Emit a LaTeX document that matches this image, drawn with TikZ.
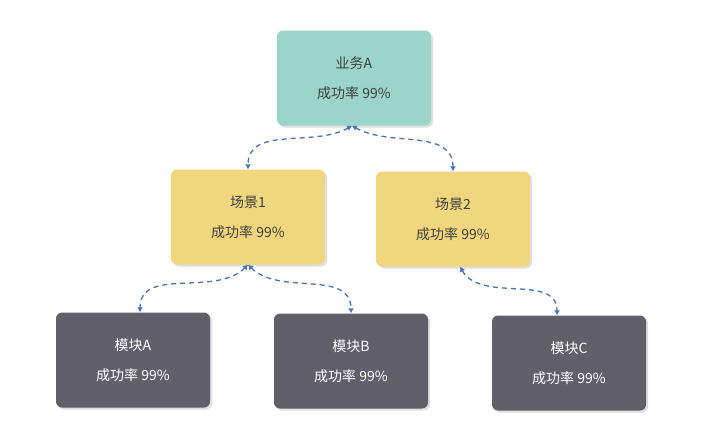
\documentclass[tikz,border=0pt]{standalone}
\usepackage{fontspec}
\setmainfont{Noto Sans CJK SC}
\usetikzlibrary{shadows,arrows.meta}
\definecolor{teal1}{HTML}{9AD4CB}
\definecolor{yel}{HTML}{F0D67C}
\definecolor{dk}{HTML}{615F69}
\definecolor{ab}{HTML}{4A72B8}
\begin{document}
\begin{tikzpicture}[x=1pt,y=-1pt,
 box/.style={rounded corners=6pt,minimum width=154pt,minimum height=95pt,align=center,font=\fontsize{14}{30}\selectfont,drop shadow={shadow xshift=2pt,shadow yshift=-2pt,opacity=0.25}},
 arr/.style={draw=ab,dashed,dash pattern=on 5pt off 4pt,line width=1.3pt,{Latex[length=5pt,width=6pt]}-{Latex[length=5pt,width=6pt]}}]
\useasboundingbox (0,0) rectangle (720,440);
\node[box,fill=teal1,text=black!75] (a) at (354,78) {业务A\\成功率 99\%};
\node[box,fill=yel,text=black!75] (s1) at (248,217) {场景1\\成功率 99\%};
\node[box,fill=yel,text=black!75] (s2) at (453,219) {场景2\\成功率 99\%};
\node[box,fill=dk,text=white] (m1) at (133,360) {模块A\\成功率 99\%};
\node[box,fill=dk,text=white] (m2) at (351,361) {模块B\\成功率 99\%};
\node[box,fill=dk,text=white] (m3) at (569,363) {模块C\\成功率 99\%};
\draw[arr] ([xshift=-2pt]a.south) to[out=-150,in=90] (s1.north);
\draw[arr] ([xshift=-2pt]a.south) to[out=-30,in=90] (s2.north);
\draw[arr] (s1.south) to[out=-135,in=90] ([xshift=7pt]m1.north);
\draw[arr] (s1.south) to[out=-45,in=90] (m2.north);
\draw[arr] ([xshift=7pt]s2.south) to[out=-60,in=90] ([xshift=-12pt]m3.north);
\end{tikzpicture}
\end{document}
